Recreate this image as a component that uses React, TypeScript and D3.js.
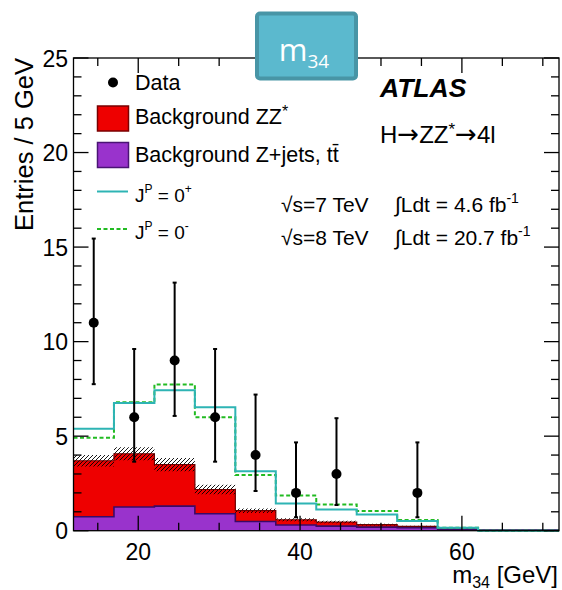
import React from "react";
import * as d3 from "d3";

const WIDTH = 562;
const HEIGHT = 590;

// m34 bins, 5 GeV wide
const BIN_LOW = [12, 17, 22, 27, 32, 37, 42, 47, 52, 57, 62, 67];
const BIN_WIDTH = 5;
// stacked backgrounds
const ZJETS = [0.74, 1.25, 1.3, 0.9, 0.49, 0.3, 0.24, 0.19, 0.16, 0.08, 0.03, 0.03];
const ZZ = [2.96, 2.82, 2.2, 1.28, 0.57, 0.28, 0.22, 0.13, 0.07, 0.02, 0, 0];
const ZZ_UNC = [0.3, 0.35, 0.35, 0.25, 0.12, 0.08, 0.06, 0.05, 0.03, 0.01, 0, 0];
// signal + background hypotheses
const SPIN_0P = [5.39, 6.76, 7.43, 6.53, 3.15, 1.44, 1.12, 0.86, 0.51, 0.15, 0, 0];
const SPIN_0M = [4.91, 6.79, 7.73, 6.0, 2.94, 1.86, 1.39, 1.04, 0.56, 0.15, 0, 0];
// data
const DATA_X = [14.5, 19.5, 24.5, 29.5, 34.5, 39.5, 44.5, 54.5];
const DATA_N = [11, 6, 9, 6, 4, 2, 3, 2];
const DATA_LO = [7.75, 3.65, 6.07, 3.65, 2.1, 0.71, 1.36, 0.71];
const DATA_HI = [15.45, 9.61, 13.12, 9.61, 7.2, 4.67, 5.95, 4.67];

const X_LABELS = [20, 40, 60];
const Y_LABELS = [0, 5, 10, 15, 20, 25];

const FONT = "'Liberation Sans', Arial, Helvetica, sans-serif";
const RED = "#ee0000";
const PURPLE = "#9933cc";
const CYAN = "#2eb4b4";
const GREEN = "#22bb22";

const x = d3.scaleLinear().domain([12, 72]).range([73.5, 559]);
const y = d3.scaleLinear().domain([0, 25]).range([530.7, 58]);

type Pt = { x: number; lo: number; hi: number };

function stepPoints(lo: number[], hi: number[]): Pt[] {
  const pts = BIN_LOW.map((b, i) => ({ x: b, lo: lo[i], hi: hi[i] }));
  const last = pts[pts.length - 1];
  pts.push({ x: last.x + BIN_WIDTH, lo: last.lo, hi: last.hi });
  return pts;
}

const area = d3
  .area<Pt>()
  .x((d) => x(d.x))
  .y0((d) => y(d.lo))
  .y1((d) => y(d.hi))
  .curve(d3.curveStepAfter);

const topLine = d3
  .line<Pt>()
  .x((d) => x(d.x))
  .y((d) => y(d.hi))
  .curve(d3.curveStepAfter);

const ARROW = "\u2192";

export default function App() {
  const stack = d3
    .stack<number>()
    .keys(["zjets", "zz"])
    .value((i, key) => (key === "zjets" ? ZJETS[i] : ZZ[i]))(BIN_LOW.map((_, i) => i));

  const zjetsPts = stepPoints(
    stack[0].map((s) => s[0]),
    stack[0].map((s) => s[1])
  );
  const zzPts = stepPoints(
    stack[1].map((s) => s[0]),
    stack[1].map((s) => s[1])
  );
  const totals = stack[1].map((s) => s[1]);
  const uncPts = stepPoints(
    totals.map((t, i) => t - ZZ_UNC[i]),
    totals.map((t, i) => t + ZZ_UNC[i])
  );
  const p0 = stepPoints(SPIN_0P, SPIN_0P);
  const m0 = stepPoints(SPIN_0M, SPIN_0M);

  const [x0, x1] = x.range();
  const [yb, yt] = y.range();
  const xMinor = d3.range(15, 72, 5);
  const yMinor = d3.range(0, 26, 1);

  return (
    <svg
      width={WIDTH}
      height={HEIGHT}
      style={{ position: "absolute", left: 0, top: 0, background: "#fff" }}
      fontFamily={FONT}
    >
      <defs>
        <pattern id="hatch" width={4} height={4} patternUnits="userSpaceOnUse">
          <path d="M-1,1 l2,-2 M0,4 l4,-4 M3,5 l2,-2" stroke="#000" strokeWidth={0.9} />
        </pattern>
      </defs>

      {/* backgrounds */}
      <path d={area(zjetsPts) || ""} fill={PURPLE} />
      <path d={area(zzPts) || ""} fill={RED} />
      <path d={area(uncPts) || ""} fill="url(#hatch)" />
      <path d={topLine(zzPts) || ""} fill="none" stroke="#6a0000" strokeWidth={1.2} />
      <path d={topLine(zjetsPts) || ""} fill="none" stroke="#3a0a66" strokeWidth={1.6} />

      {/* hypotheses */}
      <path d={topLine(m0) || ""} fill="none" stroke={GREEN} strokeWidth={2} strokeDasharray="4,2.5" />
      <path d={topLine(p0) || ""} fill="none" stroke={CYAN} strokeWidth={2} />

      {/* data */}
      {DATA_X.map((dx, i) => (
        <g key={i} stroke="#000" strokeWidth={2}>
          <line x1={x(dx)} x2={x(dx)} y1={y(DATA_LO[i])} y2={y(DATA_HI[i])} />
          <line x1={x(dx) - 2} x2={x(dx) + 2} y1={y(DATA_LO[i])} y2={y(DATA_LO[i])} />
          <line x1={x(dx) - 2} x2={x(dx) + 2} y1={y(DATA_HI[i])} y2={y(DATA_HI[i])} />
          <circle cx={x(dx)} cy={y(DATA_N[i])} r={5} fill="#000" stroke="none" />
        </g>
      ))}

      {/* frame and ticks */}
      <g stroke="#000" strokeWidth={1.3} fill="none">
        <rect x={x0} y={yt} width={x1 - x0} height={yb - yt} />
        {xMinor.map((v) => {
          const len = X_LABELS.includes(v) ? 15 : 8;
          return (
            <g key={v}>
              <line x1={x(v)} x2={x(v)} y1={yb} y2={yb - len} />
              <line x1={x(v)} x2={x(v)} y1={yt} y2={yt + len} />
            </g>
          );
        })}
        {yMinor.map((v) => {
          const len = v % 5 === 0 ? 15 : 8;
          return (
            <g key={v}>
              <line x1={x0} x2={x0 + len} y1={y(v)} y2={y(v)} />
              <line x1={x1} x2={x1 - len} y1={y(v)} y2={y(v)} />
            </g>
          );
        })}
      </g>

      {/* tick labels */}
      <g fontSize={23} fill="#000">
        {X_LABELS.map((v) => (
          <text key={v} x={x(v)} y={560} textAnchor="middle">
            {v}
          </text>
        ))}
        {Y_LABELS.map((v) => (
          <text key={v} x={68} y={y(v) + 8.5} textAnchor="end">
            {v}
          </text>
        ))}
      </g>

      {/* axis titles */}
      <text x={558} y={583} textAnchor="end" fontSize={24}>
        m<tspan fontSize={16} dy={5}>34</tspan>
        <tspan dy={-5}> [GeV]</tspan>
      </text>
      <text transform="translate(33,58) rotate(-90)" textAnchor="end" fontSize={25.5}>
        Entries / 5 GeV
      </text>

      {/* legend */}
      <g fontSize={21.5}>
        <circle cx={113} cy={82.5} r={5} fill="#000" />
        <text x={135} y={90}>Data</text>
        <rect x={97.5} y={106} width={31} height={25} fill={RED} stroke="#7a0000" strokeWidth={1.5} />
        <text x={135} y={123.5}>
          Background ZZ<tspan fontSize={16} dy={-7}>*</tspan>
        </text>
        <rect x={97.5} y={142.5} width={31} height={25} fill={PURPLE} stroke="#4a1474" strokeWidth={1.5} />
        <text x={135} y={162}>Background Z+jets, t{"t\u0304"}</text>
        <line x1={97} x2={128} y1={191.5} y2={191.5} stroke={CYAN} strokeWidth={2} />
        <text x={135} y={201.5} fontSize={19}>
          J<tspan fontSize={12} dy={-9}>P</tspan>
          <tspan dy={9}> = 0</tspan>
          <tspan fontSize={12} dy={-9}>+</tspan>
        </text>
        <line x1={97} x2={128} y1={229} y2={229} stroke={GREEN} strokeWidth={2} strokeDasharray="4,2.5" />
        <text x={135} y={238.5} fontSize={19}>
          J<tspan fontSize={12} dy={-9}>P</tspan>
          <tspan dy={9}> = 0</tspan>
          <tspan fontSize={12} dy={-9}>-</tspan>
        </text>
      </g>

      {/* ATLAS labels */}
      <text x={380} y={97} fontSize={26.5} fontWeight="bold" fontStyle="italic">
        ATLAS
      </text>
      <text x={380} y={143} fontSize={24}>
        H
        <tspan fontFamily="'DejaVu Sans', sans-serif" fontSize={26}>{ARROW}</tspan>
        ZZ<tspan fontSize={17} dy={-8}>*</tspan>
        <tspan dy={8} fontFamily="'DejaVu Sans', sans-serif" fontSize={26}>{ARROW}</tspan>
        4l
      </text>
      <g fontSize={21}>
        <text x={281} y={211.5}>{"\u221As=7 TeV"}</text>
        <text x={395} y={211.5}>
          {"\u222BLdt = 4.6 fb"}
          <tspan fontSize={14} dy={-9}>-1</tspan>
        </text>
        <text x={281} y={245}>{"\u221As=8 TeV"}</text>
        <text x={395} y={245}>
          {"\u222BLdt = 20.7 fb"}
          <tspan fontSize={14} dy={-9}>-1</tspan>
        </text>
      </g>

      {/* title badge */}
      <rect x={257} y={13.5} width={99} height={65} rx={3} fill="#5bb9ce" stroke="#4895a6" strokeWidth={4} />
      <text x={304} y={61} textAnchor="middle" fill="#fff" fontFamily="'Open Sans', sans-serif" fontSize={31}>
        m<tspan fontSize={19} dy={7}>34</tspan>
      </text>
    </svg>
  );
}
